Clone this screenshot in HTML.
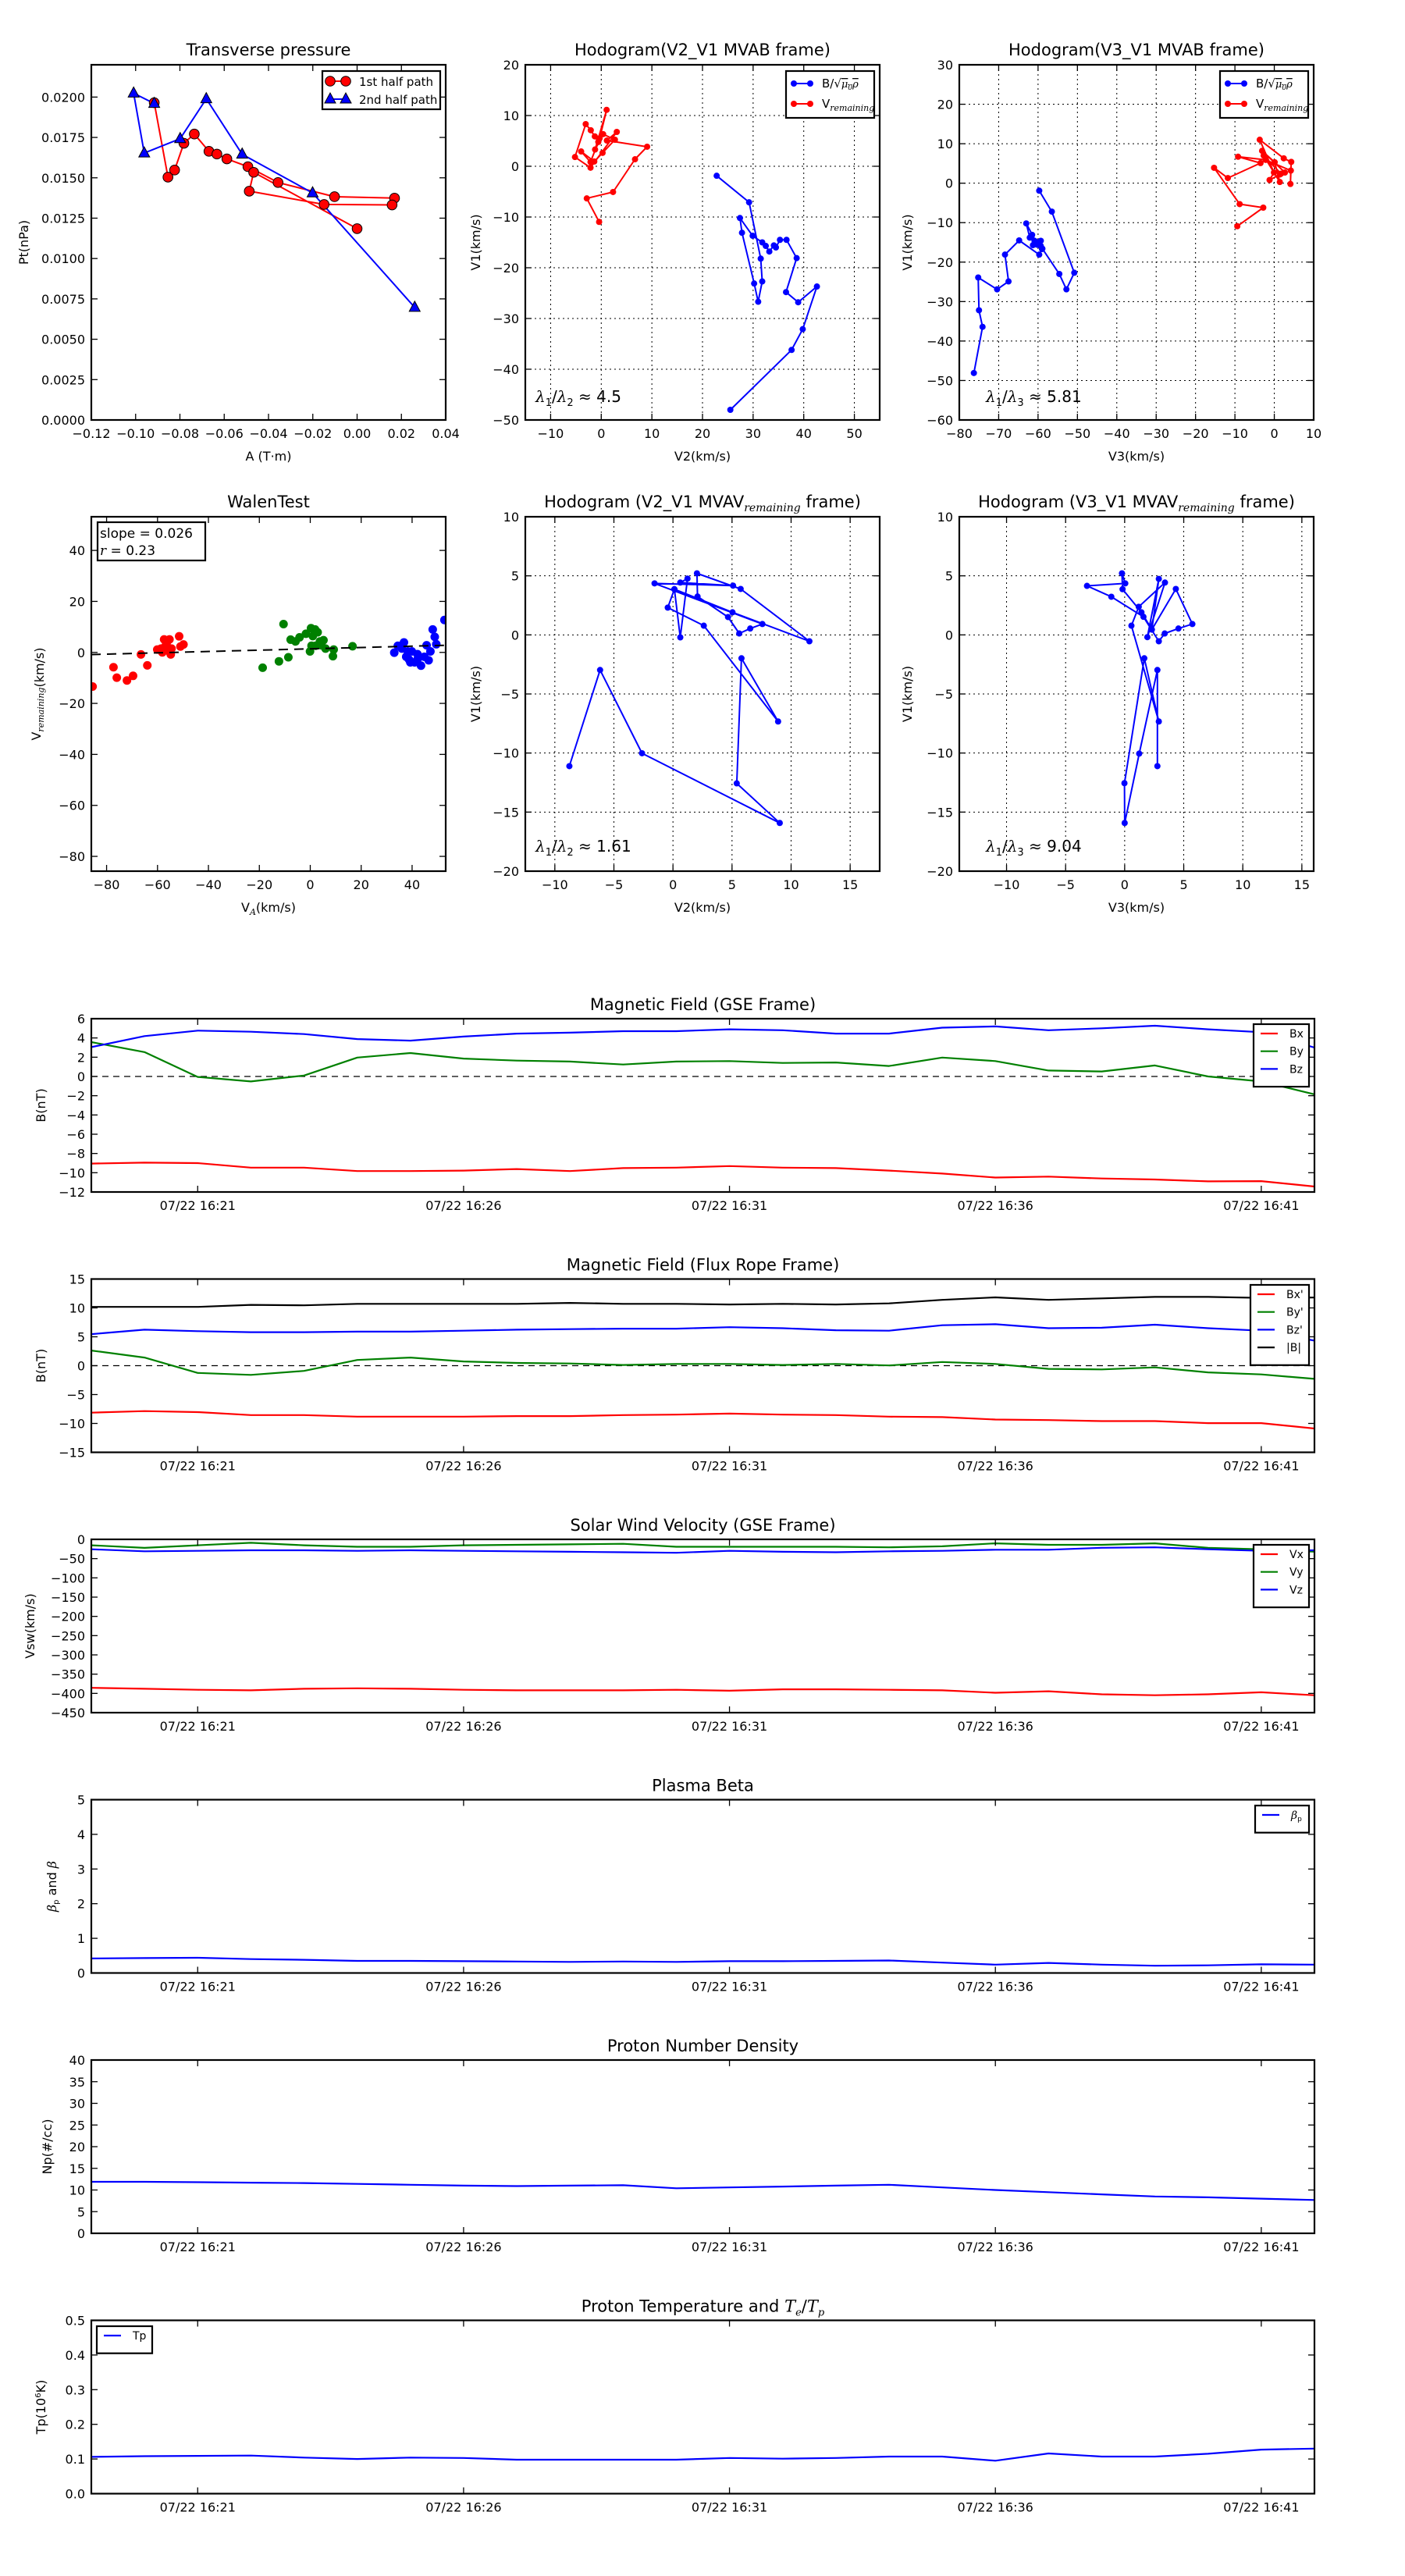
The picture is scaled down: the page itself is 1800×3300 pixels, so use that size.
<!DOCTYPE html>
<html><head><meta charset="utf-8">
<style>
html,body{margin:0;padding:0;background:#fff;}
svg{display:block;font-family:"DejaVu Sans","Liberation Sans",sans-serif;}
</style></head>
<body>
<svg id="fig" width="1800" height="3300" viewBox="0 0 1800 3300" xmlns="http://www.w3.org/2000/svg"></svg>
<script>
// ---------- Transverse pressure ----------
const tpA1 = [-0.0916,-0.0854,-0.0824,-0.0782,-0.0735,-0.0669,-0.0633,-0.0588,-0.0493,-0.0357,-0.0102,0.0169,0.0158,-0.0149,-0.0487,-0.0467,0.0000];
const tpP1 = [0.01965,0.01504,0.01548,0.01714,0.01771,0.01664,0.01647,0.01617,0.01569,0.01471,0.01383,0.01374,0.01332,0.01335,0.01417,0.01534,0.01185];
const tpA2 = [-0.0916,-0.1009,-0.0961,-0.0799,-0.0681,-0.0519,-0.0201,0.0260];
const tpP2 = [0.0196,0.02024,0.01653,0.01742,0.01989,0.01646,0.01406,0.00697];
// ---------- Hodogram V2_V1 MVAB ----------
const h1BV2 = [22.8,29.2,31.5,31.8,31.0,30.2,27.8,27.4,29.9,31.8,32.5,33.2,34.1,34.5,35.3,36.6,38.6,36.5,38.9,42.6,39.8,37.6,25.5];
const h1BV1 = [-1.87,-7.1,-18.2,-22.7,-26.7,-23.1,-13.1,-10.2,-13.7,-15.0,-15.7,-16.8,-15.6,-16.0,-14.5,-14.5,-18.1,-24.8,-26.8,-23.7,-32.1,-36.2,-48.0];
const h1VV2 = [-0.42,-2.86,2.33,6.67,9.06,1.11,3.07,-2.12,-5.19,-3.07,-2.07,-1.27,-0.58,-2.12,-3.97,-1.38,0.26,2.70,0.37,-1.22,1.06,-0.32];
const h1VV1 = [-10.96,-6.33,-5.07,1.38,3.85,5.07,6.77,-0.28,1.82,8.31,7.10,5.89,4.79,0.83,2.92,0.94,2.64,5.23,6.33,3.30,11.12,5.51];
// ---------- Hodogram V3_V1 MVAB ----------
const h2BV3 = [-76.3,-74.1,-75.0,-75.2,-70.4,-67.5,-68.4,-64.8,-59.7,-59.0,-59.3,-60.2,-61.3,-60.9,-61.5,-62.1,-63.0,-60.5,-59.3,-58.9,-54.6,-52.8,-50.8,-56.5,-59.7];
const h2BV1 = [-48.1,-36.4,-32.2,-23.9,-26.9,-24.9,-18.1,-14.5,-18.1,-16.7,-14.6,-15.6,-15.7,-14.6,-13.1,-13.8,-10.2,-14.9,-15.9,-16.6,-23.0,-26.9,-22.7,-7.2,-1.9];
const h2VV3 = [-9.4,-2.8,-8.8,-15.3,-11.8,-3.5,-9.2,-2.2,4.2,4.1,4.3,2.4,-3.7,-0.1,-1.2,1.4,2.7,-3.1,0.1,1.4,-2.7,1.7];
const h2VV1 = [-10.9,-6.2,-5.3,3.9,1.3,5.1,6.7,5.9,3.2,-0.2,5.4,6.3,11.0,2.7,0.8,2.2,2.7,8.2,5.3,0.3,7.0,2.4];
// ---------- Walen test ----------
const walRedX = [-85.5,-77.3,-76.0,-72.0,-69.6,-66.5,-64.0,-60.1,-58.1,-57.4,-56.8,-55.3,-54.8,-54.5,-56.4,-51.5,-49.8,-51.0,-58.6,-55.9];
const walRedY = [-13.4,-5.8,-9.9,-11.0,-9.2,-0.8,-5.1,1.1,0,5.1,2.6,5.1,-0.8,1.5,3.7,6.3,3.1,2.3,1.5,0.7];
const walGreenX = [-18.7,-12.3,-8.6,-10.5,-7.7,-5.8,-4.2,-1.7,0.3,1.9,2.9,1.0,3.8,5.2,6.0,9.2,8.9,16.6,-0.1,0.5,2.1,4.3];
const walGreenY = [-6.0,-3.5,-1.9,11.1,5.0,4.3,5.9,7.3,9.5,9.0,7.9,6.4,4.3,4.8,1.5,1.1,-1.5,2.4,0.4,2.6,2.6,2.8];
const walBlueX = [33.0,34.4,36.8,37.7,38.8,39.9,41.0,42.1,43.5,44.8,46.5,45.7,47.2,48.1,48.9,49.5,52.7,39.3,42.1,36.0,38.3];
const walBlueY = [-0.1,2.6,3.9,-1.7,-2.8,0.4,-3.9,-0.7,-5.2,-1.7,-3.1,2.8,0.4,9.0,6.1,3.2,12.7,-3.9,-2.8,1.5,0.4];
const walSlope = 0.026;
const walIntercept = 1.4;
// ---------- Hodogram MVAV ----------
const h3V2 = [-8.77,-6.17,-2.62,9.04,5.40,5.80,8.90,2.61,-0.44,0.12,0.62,1.23,0.62,5.09,-1.56,7.57,6.54,5.61,4.66,2.08,2.03,5.73,11.55,5.04,0.12];
const h3V1 = [-11.11,-2.97,-10.02,-15.92,-12.57,-1.98,-7.33,0.78,2.31,3.87,-0.21,4.76,4.43,4.17,4.36,0.92,0.54,0.12,1.51,3.25,5.21,3.89,-0.54,1.91,3.87];
const h4V3 = [2.77,2.77,1.23,0.0,-0.02,1.66,2.89,0.57,1.19,3.41,1.92,2.89,2.30,1.42,-0.18,-0.23,0.05,-3.19,-1.13,1.59,2.89,3.39,4.55,5.73,4.33,2.30];
const h4V1 = [-11.11,-2.97,-10.05,-15.92,-12.55,-1.98,-7.33,0.78,2.38,4.43,-0.19,4.74,0.45,1.91,3.87,5.21,4.36,4.15,3.23,1.53,-0.54,0.12,0.54,0.92,3.89,0.45];
// ---------- Time series ----------
const times = ["16:19","16:20","16:21","16:22","16:23","16:24","16:25","16:26","16:27","16:28","16:29","16:30","16:31","16:32","16:33","16:34","16:35","16:36","16:37","16:38","16:39","16:40","16:41","16:42"];
const timeTicks = ["16:21","16:26","16:31","16:36","16:41"];
const bx = [-9.05,-8.95,-9.0,-9.47,-9.47,-9.83,-9.83,-9.78,-9.62,-9.83,-9.52,-9.47,-9.31,-9.47,-9.52,-9.78,-10.09,-10.5,-10.4,-10.6,-10.7,-10.9,-10.87,-11.43];
const by = [3.57,2.53,-0.05,-0.52,0.1,1.96,2.43,1.86,1.65,1.55,1.24,1.55,1.6,1.4,1.45,1.09,1.96,1.6,0.62,0.52,1.14,0.0,-0.52,-1.86];
const bz = [3.05,4.19,4.76,4.65,4.4,3.88,3.72,4.14,4.45,4.55,4.7,4.7,4.9,4.8,4.45,4.45,5.07,5.2,4.8,5.0,5.27,4.9,4.6,3.0];
const bxp = [-8.13,-7.87,-8.04,-8.56,-8.56,-8.82,-8.82,-8.82,-8.73,-8.73,-8.56,-8.47,-8.3,-8.47,-8.56,-8.82,-8.9,-9.33,-9.42,-9.6,-9.6,-9.94,-9.94,-10.88];
const byp = [2.62,1.41,-1.25,-1.6,-0.91,0.98,1.41,0.73,0.47,0.38,0.12,0.3,0.3,0.12,0.3,0.04,0.64,0.3,-0.56,-0.65,-0.3,-1.16,-1.51,-2.28];
const bzp = [5.46,6.23,5.97,5.8,5.8,5.89,5.89,6.06,6.23,6.32,6.4,6.4,6.66,6.49,6.14,6.06,7.0,7.18,6.49,6.57,7.09,6.49,6.06,4.34];
const bmag = [10.18,10.18,10.18,10.53,10.44,10.7,10.7,10.7,10.7,10.87,10.7,10.7,10.6,10.7,10.6,10.79,11.39,11.82,11.39,11.65,11.9,11.9,11.73,11.8];
const vx = [-385.5,-388,-390.7,-392,-388,-386.8,-388,-390.7,-392,-392,-392,-390.7,-393,-389.4,-389.4,-390.7,-392,-398.4,-394.5,-402.3,-404.8,-402.3,-397,-404.8];
const vy = [-15.5,-22,-15.5,-9,-15.5,-19.3,-19.3,-15.5,-14.2,-12.9,-11.6,-19.3,-19.3,-19.3,-19.3,-20.6,-18,-10.3,-14.2,-14.2,-10.3,-22,-25.8,-32];
const vz = [-25.8,-31,-29.7,-28.4,-28.4,-29.7,-28.4,-29.7,-31,-32.2,-33.5,-34.8,-29.7,-32.2,-33.5,-31,-29.7,-27,-27,-21.9,-20.6,-25.8,-29.7,-28.4];
const beta = [0.42,0.43,0.44,0.40,0.38,0.35,0.35,0.34,0.33,0.32,0.33,0.32,0.34,0.34,0.35,0.36,0.30,0.24,0.29,0.24,0.21,0.22,0.25,0.24];
const npDens = [11.9,11.9,11.8,11.7,11.6,11.4,11.2,11.0,10.9,11.0,11.1,10.4,10.6,10.8,11.0,11.2,10.6,10.0,9.5,9.0,8.5,8.3,8.0,7.7];
const tpTemp = [0.106,0.108,0.109,0.110,0.104,0.100,0.104,0.103,0.098,0.098,0.098,0.098,0.103,0.101,0.103,0.107,0.107,0.095,0.116,0.107,0.107,0.115,0.127,0.130];

const NS = "http://www.w3.org/2000/svg";
const fig = document.getElementById('fig');
function mk(tag, attrs, parent){
  const e = document.createElementNS(NS, tag);
  for (const k in attrs) e.setAttribute(k, attrs[k]);
  (parent || fig).appendChild(e);
  return e;
}
function fmtNum(v, d){ const s = v.toFixed(d); return s.replace('-', '\u2212'); }
function tmin(t){ const p = t.split(':'); return (+p[0])*60 + (+p[1]); }
const t0 = tmin(times[0]);

function makeAxes(name, o){
  const g = mk('g', {});
  
  
  o.g = g;
  o.sx = v => o.x0 + (v - o.xmin) / (o.xmax - o.xmin) * o.w;
  o.sy = v => o.y0 + o.h - (v - o.ymin) / (o.ymax - o.ymin) * o.h;
  const cid = 'clip-' + name;
  const cp = mk('clipPath', {id: cid}, g);
  mk('rect', {x:o.x0, y:o.y0, width:o.w, height:o.h}, cp);
  o.plot = mk('g', {'clip-path':'url(#'+cid+')'}, g);
  
  
  return o;
}
function gridAndTicks(o){
  const g = o.g;
  if (o.grid){
    o.xticks.forEach(v => { const x = o.sx(v); if (x > o.x0+1 && x < o.x0+o.w-1) mk('line', {x1:x, x2:x, y1:o.y0, y2:o.y0+o.h, stroke:'#000', 'stroke-width':1, 'stroke-dasharray':'2,4'}, o.plot); });
    o.yticks.forEach(v => { const y = o.sy(v); if (y > o.y0+1 && y < o.y0+o.h-1) mk('line', {x1:o.x0, x2:o.x0+o.w, y1:y, y2:y, stroke:'#000', 'stroke-width':1, 'stroke-dasharray':'2,4'}, o.plot); });
  }
}
function frameAndLabels(o){
  const g = o.g, L = 8;
  const tg = mk('g', {}, g);
  
  
  o.xticks.forEach((v,i) => {
    const x = o.sx(v);
    mk('line', {x1:x, x2:x, y1:o.y0+o.h, y2:o.y0+o.h-L, stroke:'#000', 'stroke-width':1.3}, tg);
    mk('line', {x1:x, x2:x, y1:o.y0, y2:o.y0+L, stroke:'#000', 'stroke-width':1.3}, tg);
    const t = mk('text', {x:x, y:o.y0+o.h+23, 'font-size':16, 'text-anchor':'middle'}, tg);
    t.textContent = o.xlab ? o.xlab[i] : fmtNum(v, o.xd||0);
  });
  const yg = mk('g', {}, g);
  
  
  o.yticks.forEach(v => {
    const y = o.sy(v);
    mk('line', {x1:o.x0, x2:o.x0+L, y1:y, y2:y, stroke:'#000', 'stroke-width':1.3}, yg);
    mk('line', {x1:o.x0+o.w, x2:o.x0+o.w-L, y1:y, y2:y, stroke:'#000', 'stroke-width':1.3}, yg);
    const t = mk('text', {x:o.x0-8, y:y+6, 'font-size':16, 'text-anchor':'end'}, yg);
    t.textContent = fmtNum(v, o.yd||0);
  });
  const fr = mk('rect', {x:o.x0, y:o.y0, width:o.w, height:o.h, fill:'none', stroke:'#000', 'stroke-width':2.2}, g);
  
  
  if (o.title){
    const t = mk('text', {x:o.x0+o.w/2, y:o.y0-(o.titleOff||12), 'font-size':21, 'text-anchor':'middle'}, g);
    
    
    t.innerHTML = o.title;
  }
  if (o.xlabel){
    const t = mk('text', {x:o.x0+o.w/2, y:o.y0+o.h+52, 'font-size':16, 'text-anchor':'middle'}, g);
    
    
    t.innerHTML = o.xlabel;
  }
  if (o.ylabel){
    const t = mk('text', {x:0, y:0, 'font-size':16, 'text-anchor':'middle', transform:'translate('+o.ylx+','+(o.y0+o.h/2)+') rotate(-90)'}, g);
    
    
    t.innerHTML = o.ylabel;
  }
}
function range(a, b, s){ const r=[]; for (let v=a; v<=b+1e-9; v+=s) r.push(Math.round(v*1e6)/1e6); return r; }
function polyline(o, xs, ys, color, name, w){
  const pts = xs.map((x,i) => o.sx(x).toFixed(1)+','+o.sy(ys[i]).toFixed(1)).join(' ');
  const p = mk('polyline', {points:pts, fill:'none', stroke:color, 'stroke-width':w||2, 'stroke-linejoin':'round'}, o.plot);
  
  
  return p;
}
function dots(o, xs, ys, color, name, r, edge){
  const g = mk('g', {}, o.plot);
  
  
  xs.forEach((x,i) => {
    const c = mk('circle', {cx:o.sx(x), cy:o.sy(ys[i]), r:r, fill:color, stroke:edge||'none', 'stroke-width':1}, g);
    
    
  });
}
function tris(o, xs, ys, color, name){
  const g = mk('g', {}, o.plot);
  
  
  xs.forEach((x,i) => {
    const cx = o.sx(x), cy = o.sy(ys[i]);
    const t = mk('polygon', {points:(cx)+','+(cy-8)+' '+(cx-7)+','+(cy+5)+' '+(cx+7)+','+(cy+5), fill:color, stroke:'#000', 'stroke-width':1}, g);
    
    
  });
}
function legendBox(x, y, w, h, name){
  const r = mk('rect', {x:x, y:y, width:w, height:h, fill:'#fff', stroke:'#000', 'stroke-width':2.2});
  
  
}
function legendText(x, y, html, size){
  const t = mk('text', {x:x, y:y, 'font-size':size||16});
  
  
  t.innerHTML = html;
}
const SUB = (s) => '<tspan font-family="DejaVu Serif,serif" font-style="italic" font-size="11" dy="4">'+s+'</tspan><tspan dy="-4"></tspan>';
const BSQ = 'B/\u221A<tspan font-family="DejaVu Serif,serif" font-style="italic" font-size="13" text-decoration="overline">\u03BC<tspan font-size="9" dy="3">0</tspan><tspan dy="-3">\u03C1</tspan></tspan>';
const VREM = 'V' + SUB('remaining');
function lambdaText(x, y, a, b, val){
  const t = mk('text', {x:x, y:y, 'font-size':20});
  
  
  t.innerHTML = '<tspan font-family="DejaVu Serif,serif" font-style="italic">\u03BB</tspan><tspan font-size="13" dy="5">'+a+'</tspan><tspan dy="-5">/</tspan><tspan font-family="DejaVu Serif,serif" font-style="italic">\u03BB</tspan><tspan font-size="13" dy="5">'+b+'</tspan><tspan dy="-5"> \u2248 '+val+'</tspan>';
}

// ===== Transverse pressure =====
(function(){
  const o = makeAxes('transverse-pressure-chart', {x0:117, y0:83, w:454, h:455, xmin:-0.12, xmax:0.04, ymin:0, ymax:0.022,
    xticks:range(-0.12,0.04,0.02), xd:2, yticks:range(0,0.02,0.0025), yd:4,
    title:'Transverse pressure', xlabel:'A (T\u00B7m)', ylabel:'Pt(nPa)', ylx:36});
  polyline(o, tpA1, tpP1, '#ff0000', 'first-half-path-line');
  polyline(o, tpA2, tpP2, '#0000ff', 'second-half-path-line');
  dots(o, tpA1, tpP1, '#ff0000', 'first-half-path-markers', 6.3, '#000');
  tris(o, tpA2, tpP2, '#0000ff', 'second-half-path-markers');
  frameAndLabels(o);
  legendBox(413, 91, 151, 49, 'transverse-pressure-legend');
  mk('line', {x1:423, x2:443, y1:104, y2:104, stroke:'#ff0000', 'stroke-width':2});
  mk('circle', {cx:423, cy:104, r:6.3, fill:'#ff0000', stroke:'#000'}); mk('circle', {cx:443, cy:104, r:6.3, fill:'#ff0000', stroke:'#000'});
  legendText(460, 110, '1st half path', 15);
  mk('line', {x1:423, x2:443, y1:127, y2:127, stroke:'#0000ff', 'stroke-width':2});
  mk('polygon', {points:'423,119 416,132 430,132', fill:'#0000ff', stroke:'#000'}); mk('polygon', {points:'443,119 436,132 450,132', fill:'#0000ff', stroke:'#000'});
  legendText(460, 133, '2nd half path', 15);
})();

// ===== Hodogram V2_V1 MVAB =====
(function(){
  const o = makeAxes('hodogram-v2-v1-mvab', {x0:673, y0:83, w:454, h:455, xmin:-15, xmax:55, ymin:-50, ymax:20,
    xticks:range(-10,50,10), yticks:range(-50,20,10), grid:true,
    title:'Hodogram(V2_V1 MVAB frame)', xlabel:'V2(km/s)', ylabel:'V1(km/s)', ylx:615});
  gridAndTicks(o);
  polyline(o, h1BV2, h1BV1, '#0000ff', 'b-alfven-line');
  dots(o, h1BV2, h1BV1, '#0000ff', 'b-alfven-markers', 4);
  polyline(o, h1VV2, h1VV1, '#ff0000', 'v-remaining-line');
  dots(o, h1VV2, h1VV1, '#ff0000', 'v-remaining-markers', 4);
  frameAndLabels(o);
  lambdaText(686, 515, 1, 2, '4.5');
  legendBox(1007, 91, 113, 60, 'hodogram-legend');
  mk('line', {x1:1017, x2:1038, y1:107, y2:107, stroke:'#0000ff', 'stroke-width':2}); mk('circle',{cx:1017,cy:107,r:4,fill:'#0000ff'}); mk('circle',{cx:1038,cy:107,r:4,fill:'#0000ff'});
  legendText(1053, 112, BSQ, 15);
  mk('line', {x1:1017, x2:1038, y1:133, y2:133, stroke:'#ff0000', 'stroke-width':2}); mk('circle',{cx:1017,cy:133,r:4,fill:'#ff0000'}); mk('circle',{cx:1038,cy:133,r:4,fill:'#ff0000'});
  legendText(1053, 138, VREM, 15);
})();

// ===== Hodogram V3_V1 MVAB =====
(function(){
  const o = makeAxes('hodogram-v3-v1-mvab', {x0:1229, y0:83, w:454, h:455, xmin:-80, xmax:10, ymin:-60, ymax:30,
    xticks:range(-80,10,10), yticks:range(-60,30,10), grid:true,
    title:'Hodogram(V3_V1 MVAB frame)', xlabel:'V3(km/s)', ylabel:'V1(km/s)', ylx:1168});
  gridAndTicks(o);
  polyline(o, h2BV3, h2BV1, '#0000ff', 'b-alfven-line');
  dots(o, h2BV3, h2BV1, '#0000ff', 'b-alfven-markers', 4);
  polyline(o, h2VV3, h2VV1, '#ff0000', 'v-remaining-line');
  dots(o, h2VV3, h2VV1, '#ff0000', 'v-remaining-markers', 4);
  frameAndLabels(o);
  lambdaText(1263, 515, 1, 3, '5.81');
  legendBox(1563, 91, 113, 60, 'hodogram-legend');
  mk('line', {x1:1573, x2:1594, y1:107, y2:107, stroke:'#0000ff', 'stroke-width':2}); mk('circle',{cx:1573,cy:107,r:4,fill:'#0000ff'}); mk('circle',{cx:1594,cy:107,r:4,fill:'#0000ff'});
  legendText(1609, 112, BSQ, 15);
  mk('line', {x1:1573, x2:1594, y1:133, y2:133, stroke:'#ff0000', 'stroke-width':2}); mk('circle',{cx:1573,cy:133,r:4,fill:'#ff0000'}); mk('circle',{cx:1594,cy:133,r:4,fill:'#ff0000'});
  legendText(1609, 138, VREM, 15);
})();

// ===== Walen test =====
(function(){
  const o = makeAxes('walen-test-chart', {x0:117, y0:662, w:454, h:454, xmin:-86, xmax:53.2, ymin:-85.8, ymax:53.2,
    xticks:range(-80,40,20), yticks:range(-80,40,20),
    title:'WalenTest', xlabel:'V<tspan font-family="DejaVu Serif,serif" font-style="italic" font-size="11" dy="4">A</tspan><tspan dy="-4">(km/s)</tspan>', ylabel:VREM+'(km/s)', ylx:52});
  dots(o, walRedX, walRedY, '#ff0000', 'walen-red-points', 5.5);
  dots(o, walGreenX, walGreenY, '#008000', 'walen-green-points', 5.5);
  dots(o, walBlueX, walBlueY, '#0000ff', 'walen-blue-points', 5.5);
  const l = mk('line', {x1:o.sx(o.xmin), y1:o.sy(walIntercept + walSlope*o.xmin), x2:o.sx(o.xmax), y2:o.sy(walIntercept + walSlope*o.xmax), stroke:'#000', 'stroke-width':2, 'stroke-dasharray':'12,8'}, o.plot);
  
  
  frameAndLabels(o);
  legendBox(125, 669, 138, 49, 'fit-stats-box');
  legendText(128, 689, 'slope = 0.026', 17);
  legendText(128, 711, '<tspan font-family="DejaVu Serif,serif" font-style="italic">r</tspan> = 0.23', 17);
})();

// ===== Hodogram MVAV V2 =====
(function(){
  const o = makeAxes('hodogram-v2-v1-mvav', {x0:673, y0:662, w:454, h:454, xmin:-12.5, xmax:17.5, ymin:-20, ymax:10,
    xticks:range(-10,15,5), yticks:range(-20,10,5), grid:true,
    title:'Hodogram (V2_V1 MVAV<tspan font-family="DejaVu Serif,serif" font-style="italic" font-size="14" dy="5">remaining</tspan><tspan dy="-5"> frame)</tspan>', xlabel:'V2(km/s)', ylabel:'V1(km/s)', ylx:615});
  gridAndTicks(o);
  polyline(o, h3V2, h3V1, '#0000ff', 'hodogram-line');
  dots(o, h3V2, h3V1, '#0000ff', 'hodogram-markers', 4);
  frameAndLabels(o);
  lambdaText(686, 1091, 1, 2, '1.61');
})();

// ===== Hodogram MVAV V3 =====
(function(){
  const o = makeAxes('hodogram-v3-v1-mvav', {x0:1229, y0:662, w:454, h:454, xmin:-14, xmax:16, ymin:-20, ymax:10,
    xticks:range(-10,15,5), yticks:range(-20,10,5), grid:true,
    title:'Hodogram (V3_V1 MVAV<tspan font-family="DejaVu Serif,serif" font-style="italic" font-size="14" dy="5">remaining</tspan><tspan dy="-5"> frame)</tspan>', xlabel:'V3(km/s)', ylabel:'V1(km/s)', ylx:1168});
  gridAndTicks(o);
  polyline(o, h4V3, h4V1, '#0000ff', 'hodogram-line');
  dots(o, h4V3, h4V1, '#0000ff', 'hodogram-markers', 4);
  frameAndLabels(o);
  lambdaText(1263, 1091, 1, 3, '9.04');
})();

// ===== Time series panels =====
function tsPanel(name, y0, ymin, ymax, ystep, yd, title, ylabel, ylx, series, zero){
  const tx = times.map(t => tmin(t) - t0);
  const o = makeAxes(name, {x0:117, y0:y0, w:1567, h:222, xmin:0, xmax:tx[tx.length-1], ymin:ymin, ymax:ymax,
    xticks:timeTicks.map(t => tmin(t) - t0), xlab:timeTicks.map(t => '07/22 ' + t),
    yticks:range(ymin, ymax, ystep), yd:yd, title:title, titleOff:11, ylabel:ylabel, ylx:ylx});
  if (zero){
    const z = mk('line', {x1:o.x0, x2:o.x0+o.w, y1:o.sy(0), y2:o.sy(0), stroke:'#000', 'stroke-width':1.3, 'stroke-dasharray':'8,6'}, o.plot);
    
    
  }
  series.forEach(s => polyline(o, tx, s.data, s.color, s.name, 2.2));
  frameAndLabels(o);
  return o;
}
function tsLegend(x, y, w, entries, name){
  legendBox(x, y, w, 12 + entries.length*22.7, name);
  entries.forEach((e,i) => {
    const yy = y + 12 + i*22.7;
    const ln = mk('line', {x1:x+9, x2:x+31, y1:yy, y2:yy, stroke:e.color, 'stroke-width':2.2});
    
    
    legendText(x+46, yy+5, e.label, 14);
  });
}
tsPanel('magnetic-field-gse-chart', 1305, -12, 6, 2, 0, 'Magnetic Field (GSE Frame)', 'B(nT)', 58,
  [{data:bx, color:'#ff0000', name:'bx-line'}, {data:by, color:'#008000', name:'by-line'}, {data:bz, color:'#0000ff', name:'bz-line'}], true);
tsLegend(1606, 1312, 71, [{label:'Bx', color:'#ff0000'}, {label:'By', color:'#008000'}, {label:'Bz', color:'#0000ff'}], 'gse-legend');

tsPanel('magnetic-field-flux-rope-chart', 1638.5, -15, 15, 5, 0, 'Magnetic Field (Flux Rope Frame)', 'B(nT)', 58,
  [{data:bxp, color:'#ff0000', name:'bx-prime-line'}, {data:byp, color:'#008000', name:'by-prime-line'}, {data:bzp, color:'#0000ff', name:'bz-prime-line'}, {data:bmag, color:'#000000', name:'b-magnitude-line'}], true);
tsLegend(1602, 1646, 75, [{label:"Bx'", color:'#ff0000'}, {label:"By'", color:'#008000'}, {label:"Bz'", color:'#0000ff'}, {label:'|B|', color:'#000000'}], 'flux-rope-legend');

tsPanel('solar-wind-velocity-chart', 1972, -450, 0, 50, 0, 'Solar Wind Velocity (GSE Frame)', 'Vsw(km/s)', 44,
  [{data:vx, color:'#ff0000', name:'vx-line'}, {data:vy, color:'#008000', name:'vy-line'}, {data:vz, color:'#0000ff', name:'vz-line'}], false);
tsLegend(1606, 1979, 71, [{label:'Vx', color:'#ff0000'}, {label:'Vy', color:'#008000'}, {label:'Vz', color:'#0000ff'}], 'velocity-legend');

tsPanel('plasma-beta-chart', 2305.5, 0, 5, 1, 0, 'Plasma Beta', '<tspan font-family="DejaVu Serif,serif" font-style="italic">\u03B2</tspan><tspan font-size="10" dy="3">p</tspan><tspan dy="-3"> and </tspan><tspan font-family="DejaVu Serif,serif" font-style="italic">\u03B2</tspan>', 72,
  [{data:beta, color:'#0000ff', name:'beta-line'}], false);
tsLegend(1608, 2313, 69, [{label:'<tspan font-family="DejaVu Serif,serif" font-style="italic">\u03B2</tspan><tspan font-size="9" dy="3">p</tspan>', color:'#0000ff'}], 'beta-legend');

tsPanel('proton-density-chart', 2639, 0, 40, 5, 0, 'Proton Number Density', 'Np(#/cc)', 66,
  [{data:npDens, color:'#0000ff', name:'density-line'}], false);

tsPanel('proton-temperature-chart', 2972.5, 0, 0.5, 0.1, 1, 'Proton Temperature and <tspan font-family="DejaVu Serif,serif" font-style="italic">T</tspan><tspan font-family="DejaVu Serif,serif" font-style="italic" font-size="13" dy="5">e</tspan><tspan dy="-5">/</tspan><tspan font-family="DejaVu Serif,serif" font-style="italic">T</tspan><tspan font-family="DejaVu Serif,serif" font-style="italic" font-size="13" dy="5">p</tspan>', 'Tp(10<tspan font-size="10" dy="-6">6</tspan><tspan dy="6">K)</tspan>', 58,
  [{data:tpTemp, color:'#0000ff', name:'temperature-line'}], false);
tsLegend(124, 2980, 71, [{label:'Tp', color:'#0000ff'}], 'temperature-legend');
</script>
</body></html>
